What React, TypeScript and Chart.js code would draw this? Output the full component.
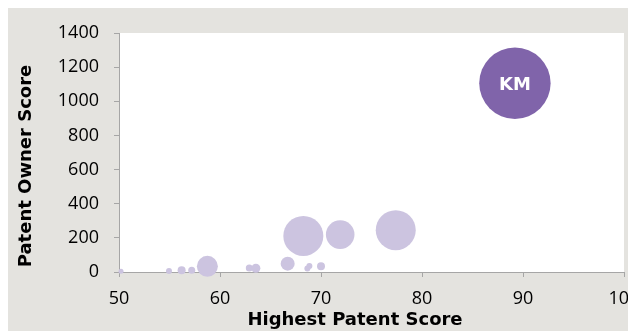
import React, { useEffect, useRef } from 'react';
import { Chart, registerables } from 'chart.js';

Chart.register(...registerables);

// Highest patent score (x), patent owner score (y), bubble size (radius) for each owner
const otherScoresX = [50.2, 54.95, 56.2, 57.2, 58.75, 62.9, 63.55, 66.7, 68.25, 68.65, 68.85, 70.0, 71.9, 77.4];
const otherScoresY = [5, 6, 10, 10, 33, 23, 22, 49, 211, 20, 35, 33, 219, 245];
const otherSizes = [2.5, 3, 4, 3.5, 10.5, 3.5, 4.5, 7, 20, 3, 3, 4, 14.3, 20];

const highlightLabels = ['KM'];
const highlightScoresX = [89.2];
const highlightScoresY = [1106];
const highlightSizes = [35.7];

const xTickValues = [50, 60, 70, 80, 90, 100];
const yTickValues = [0, 200, 400, 600, 800, 1000, 1200, 1400];

const xTitle = 'Highest Patent Score';
const yTitle = 'Patent Owner Score';

const BG = '#e4e3df';
const LIGHT = '#ccc4e0';
const DARK = '#8064aa';
const AXIS = '#a6a6a6';
const TICK_FONT = '"Open Sans", "Liberation Sans", sans-serif';
const TITLE_FONT = '"DejaVu Sans", Verdana, sans-serif';

const bgPlugin = {
  id: 'bgPlugin',
  beforeDraw(chart: any) {
    const { ctx, chartArea, width, height } = chart;
    ctx.save();
    ctx.fillStyle = BG;
    ctx.fillRect(0, 0, width, height);
    ctx.fillStyle = '#ffffff';
    ctx.fillRect(chartArea.left, chartArea.top, chartArea.right - chartArea.left, chartArea.bottom - chartArea.top);
    ctx.restore();
  },
};

const labelPlugin = {
  id: 'labelPlugin',
  afterDatasetsDraw(chart: any) {
    const { ctx } = chart;
    const meta = chart.getDatasetMeta(1);
    ctx.save();
    ctx.fillStyle = '#ffffff';
    ctx.font = 'bold 18px ' + TITLE_FONT;
    ctx.textAlign = 'center';
    ctx.textBaseline = 'alphabetic';
    meta.data.forEach((el: any, i: number) => {
      ctx.fillText(highlightLabels[i], el.x, el.y + 6.5);
    });
    ctx.restore();
  },
};

const titlePlugin = {
  id: 'titlePlugin',
  afterDraw(chart: any) {
    const { ctx } = chart;
    ctx.save();
    ctx.fillStyle = '#000000';
    ctx.font = 'bold 18px ' + TITLE_FONT;
    ctx.textAlign = 'center';
    ctx.textBaseline = 'alphabetic';
    ctx.fillText(xTitle, 347, 317);
    ctx.translate(22.5, 158);
    ctx.rotate(-Math.PI / 2);
    ctx.fillText(yTitle, 0, 0);
    ctx.restore();
  },
};

export default function App() {
  const ref = useRef<HTMLCanvasElement>(null);

  useEffect(() => {
    document.documentElement.style.overflow = 'hidden';
    document.body.style.overflow = 'hidden';
    const canvas = ref.current!;
    const chart = new Chart(canvas, {
      type: 'bubble',
      data: {
        datasets: [
          {
            label: 'Owners',
            data: otherScoresX.map((x, i) => ({ x, y: otherScoresY[i], r: otherSizes[i] })),
            backgroundColor: LIGHT,
            borderWidth: 0,
            hoverRadius: 0,
            clip: false as any,
          },
          {
            label: highlightLabels[0],
            data: highlightScoresX.map((x, i) => ({ x, y: highlightScoresY[i], r: highlightSizes[i] })),
            backgroundColor: DARK,
            borderWidth: 0,
            hoverRadius: 0,
            clip: false as any,
          },
        ],
      },
      options: {
        animation: false,
        responsive: false,
        devicePixelRatio: 1,
        events: [],
        layout: { autoPadding: false, padding: { top: 25, right: 12, left: 0, bottom: 0 } },
        plugins: { legend: { display: false }, tooltip: { enabled: false }, title: { display: false } },
        scales: {
          x: {
            type: 'linear',
            min: 50,
            max: 100,
            afterBuildTicks(scale: any) {
              scale.ticks = xTickValues.map((v) => ({ value: v }));
            },
            ticks: {
              font: { family: TICK_FONT, size: 18 },
              color: '#000000',
              padding: 11,
              maxRotation: 0,
              callback: (v: any) => String(v),
            },
            grid: { drawOnChartArea: false, drawTicks: true, tickLength: 5, color: AXIS, lineWidth: 1 },
            border: { display: true, color: AXIS, width: 1 },
            afterFit(scale: any) {
              scale.height = 59;
              scale.paddingLeft = 0;
              scale.paddingRight = 0;
            },
          },
          y: {
            type: 'linear',
            min: 0,
            max: 1400,
            afterBuildTicks(scale: any) {
              scale.ticks = yTickValues.map((v) => ({ value: v }));
            },
            ticks: {
              font: { family: TICK_FONT, size: 18 },
              color: '#000000',
              padding: 15,
              callback: (v: any) => String(v),
            },
            grid: { drawOnChartArea: false, drawTicks: true, tickLength: 5, color: AXIS, lineWidth: 1 },
            border: { display: true, color: AXIS, width: 1 },
            afterFit(scale: any) {
              scale.width = 111;
              scale.paddingTop = 0;
              scale.paddingBottom = 0;
            },
          },
        },
      },
      plugins: [bgPlugin, labelPlugin, titlePlugin],
    });
    return () => chart.destroy();
  }, []);

  return <canvas ref={ref} width={628} height={323} style={{ display: 'block' }} />;
}
